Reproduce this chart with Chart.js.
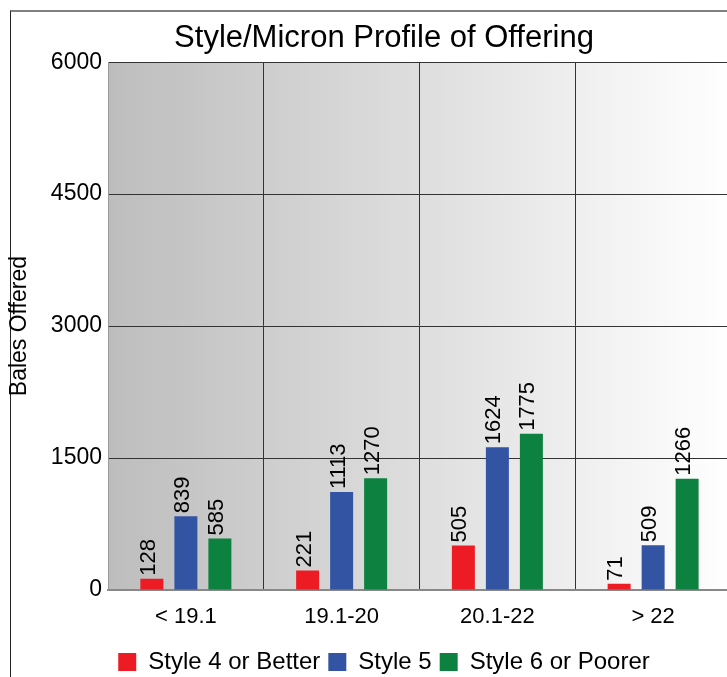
<!DOCTYPE html>
<html lang="en">
<head>
    <meta charset="UTF-8">
    <title>Style/Micron Profile of Offering</title>
    <style>
        html, body {
            margin: 0;
            padding: 0;
            background: #fff;
            overflow: hidden;
        }

        .frame {
            position: absolute;
            left: 10px;
            top: 10px;
            width: 800px;
            height: 700px;
            border-top: 2px solid #808080;
            border-left: 1px solid #222;
        }

        .chart-box {
            position: absolute;
            left: 0;
            top: 0;
            width: 768px;
            height: 684px;
        }
    </style>
</head>
<body>
    <div class="frame"></div>
    <div class="chart-box">
        <canvas id="micronChart" width="768" height="684"></canvas>
    </div>

    <script src="https://cdn.jsdelivr.net/npm/chart.js"></script>
    <script>
        const categories = ['< 19.1', '19.1-20', '20.1-22', '> 22'];
        const style4OrBetter = [128, 221, 505, 71];
        const style5 = [839, 1113, 1624, 509];
        const style6OrPoorer = [585, 1270, 1775, 1266];
        const yTicks = [0, 1500, 3000, 4500, 6000];

        const fontFamily = '"Liberation Sans", Arial, sans-serif';

        // grey to white gradient behind the plot
        const plotBackground = {
            id: 'plotBackground',
            beforeDraw(chart) {
                const { ctx, chartArea } = chart;
                const grad = ctx.createLinearGradient(chartArea.left, 0, chartArea.right, 0);
                grad.addColorStop(0, '#bdbdbd');
                grad.addColorStop(1, '#ffffff');
                ctx.save();
                ctx.fillStyle = grad;
                ctx.fillRect(chartArea.left, chartArea.top, chartArea.right - chartArea.left, chartArea.bottom - chartArea.top);
                ctx.restore();
            }
        };

        // values written upwards above each bar
        const barValues = {
            id: 'barValues',
            afterDatasetsDraw(chart) {
                const ctx = chart.ctx;
                ctx.save();
                ctx.font = '22px ' + fontFamily;
                ctx.fillStyle = '#000';
                ctx.textAlign = 'left';
                ctx.textBaseline = 'alphabetic';
                chart.data.datasets.forEach((ds, i) => {
                    chart.getDatasetMeta(i).data.forEach((bar, j) => {
                        ctx.save();
                        ctx.translate(bar.x + 3, bar.y - 3);
                        ctx.rotate(-Math.PI / 2);
                        ctx.fillText(String(ds.data[j]), 0, 0);
                        ctx.restore();
                    });
                });
                ctx.restore();
            }
        };

        const ctx = document.getElementById('micronChart').getContext('2d');
        new Chart(ctx, {
            type: 'bar',
            data: {
                labels: categories,
                datasets: [
                    { label: 'Style 4 or Better', data: style4OrBetter, backgroundColor: '#ed1c24' },
                    { label: 'Style 5', data: style5, backgroundColor: '#3353a3' },
                    { label: 'Style 6 or Poorer', data: style6OrPoorer, backgroundColor: '#0c8140' }
                ]
            },
            options: {
                responsive: false,
                animation: false,
                layout: {
                    padding: { left: 6, right: 6, top: 0, bottom: 0 }
                },
                datasets: {
                    bar: {
                        categoryPercentage: 0.655,
                        barPercentage: 0.676
                    }
                },
                plugins: {
                    title: {
                        display: true,
                        text: 'Style/Micron Profile of Offering',
                        color: '#000',
                        font: { family: fontFamily, size: 31, weight: 'normal' },
                        padding: { top: 20, bottom: 5 }
                    },
                    legend: {
                        position: 'bottom',
                        labels: {
                            color: '#000',
                            font: { family: fontFamily, size: 24 },
                            boxWidth: 18,
                            boxHeight: 18,
                            padding: 8
                        }
                    },
                    tooltip: { enabled: false }
                },
                scales: {
                    x: {
                        grid: { color: '#333', lineWidth: 1, drawTicks: false, offset: true },
                        border: { color: '#888', width: 2 },
                        ticks: {
                            color: '#000',
                            font: { family: fontFamily, size: 22 },
                            padding: 14
                        },
                        afterFit(scale) { scale.height = 52; }
                    },
                    y: {
                        min: 0,
                        max: 6000,
                        afterBuildTicks(scale) {
                            scale.ticks = yTicks.map(v => ({ value: v }));
                        },
                        grid: { color: '#333', lineWidth: 1, drawTicks: false },
                        border: { color: '#999', width: 1 },
                        ticks: {
                            color: '#000',
                            font: { family: fontFamily, size: 23 },
                            padding: 6,
                            callback: v => String(v)
                        },
                        title: {
                            display: true,
                            text: 'Bales Offered',
                            color: '#000',
                            font: { family: fontFamily, size: 23 },
                            padding: 0
                        },
                        afterFit(scale) { scale.width = 102; }
                    },
                    // empty strip on the right so title and legend centre on the whole frame
                    spacer: {
                        position: 'right',
                        min: 0,
                        max: 6000,
                        grid: { display: false },
                        border: { display: false },
                        ticks: { display: false },
                        afterFit(scale) { scale.width = 31; }
                    }
                }
            },
            plugins: [plotBackground, barValues]
        });
    </script>
</body>
</html>
